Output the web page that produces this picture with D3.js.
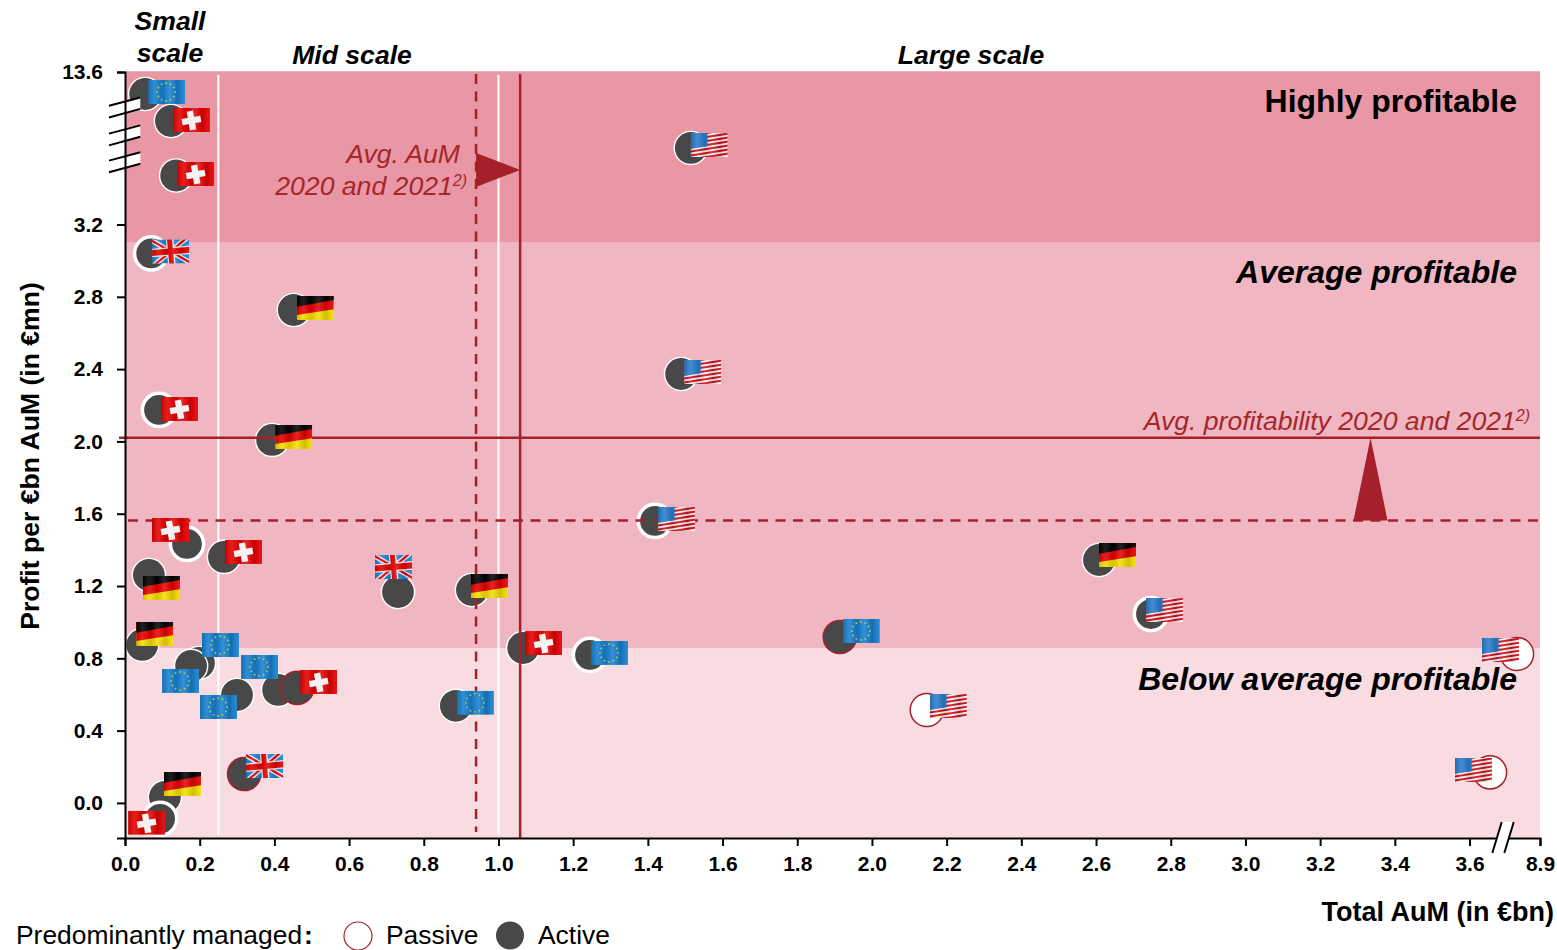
<!DOCTYPE html>
<html>
<head>
<meta charset="utf-8">
<script src="https://cdn.jsdelivr.net/npm/d3@7"></script>
<style>
  body { margin: 0; background: #fff; overflow: hidden; }
  svg { display: block; font-family: "Liberation Sans", Arial, sans-serif; }
  .tick text { font-size: 21px; font-weight: bold; fill: #000; }
  .scale-label { font-size: 26.6px; font-weight: bold; font-style: italic; text-anchor: middle; }
  .band-label { font-size: 32px; font-weight: bold; text-anchor: end; }
  .avg-label { font-size: 26.6px; font-style: italic; fill: #a5262b; text-anchor: end; }
  .avg-label .sup { font-size: 16px; }
</style>
</head>
<body>
<div id="plot-container"></div>
<script>
// ##################################
//  DATA
// ##################################
const fundAum = [
  0.054, 0.123, 0.137, 0.07, 0.452, 1.515, 1.489, 0.091, 0.394, 1.419, 0.166,
  0.265, 0.064, 0.731, 0.929, 0.046, 0.198, 0.177, 0.3, 0.41, 0.461, 0.886,
  0.319, 0.107, 0.094, 1.066, 1.245, 1.914, 2.608, 2.747, 2.147, 7.17, 5.14,
]
const fundProfit = [
  12.1, 10.26, 6.54, 3.04, 2.727, 8.42, 2.373, 2.174, 2.008, 1.56, 1.433,
  1.361, 1.261, 1.167, 1.178, 0.874, 0.774, 0.758, 0.597, 0.625, 0.636, 0.537,
  0.16, 0.033, -0.088, 0.857, 0.819, 0.918, 1.344, 1.045, 0.514, 0.824, 0.169,
]
const fundCountry = [
  "eu", "ch", "ch", "uk", "de", "us", "us", "ch", "de", "us", "ch",
  "ch", "de", "uk", "de", "de", "eu", "eu", "eu", "eu", "ch", "eu",
  "uk", "de", "ch", "ch", "eu", "eu", "de", "us", "us", "us", "us",
]
const fundManaged = [
  "active", "active", "active", "active", "active", "active", "active", "active", "active", "active", "active",
  "active", "active", "active", "active", "active", "active", "active", "active", "active", "active", "active",
  "active", "active", "active", "active", "active", "active", "active", "active", "passive", "passive", "passive",
]
const fundRing = [
  "thin", "thin", "thin", "thick", "thin", "thin", "thin", "thick", "thin", "thick", "thick",
  "thin", "thin", "thin", "thin", "thin", "thin", "thin", "thin", "thin", "red", "thin",
  "red", "thin", "thick", "thin", "thick", "red", "thin", "thick", "red", "red", "red",
]

const yTicks = [0, 0.4, 0.8, 1.2, 1.6, 2.0, 2.4, 2.8, 3.2, 13.6]
const xTicks = d3.range(0, 3.7, 0.2).concat([8.9])
const bandLimits = [-0.194, 0.857, 3.1, 13.65]

const smallScaleLimit = 0.25
const midScaleLimit = 1.0
const avgAum2020 = 0.94
const avgAum2021 = 1.058
const avgProfit2020 = 1.563
const avgProfit2021 = 2.02

// Where the axes are cut
const yBreaks = [11.2, 9.3, 7.46]
const xBreak = 6.12

// ##################################
//  LAYOUT
// ##################################
const width = 1557
const height = 950
const darkRed = "#a5202a"
const bandColors = ["#f8dce1", "#f0b7c2", "#e997a5"]
const flagW = 37
const flagH = 24

// Flag corner relative to the bubble centre, set by hand so flags don't collide
const flagDx = [3, 2, 1, 1, 3, 0, 3, 2, 3, 3, -35, 1, -6, -23, -1, -6, 3, -29, -37, -37, 3, 1, 2, -1, -32, 2, 1, 3, 0, -5, 3, -35, -35]
const flagDy = [-14, -13, -13.5, -14, -14, -15, -14, -13, -15, -14, -26, -17, 1, -37, -16, -23, -30, 3, 0, -35, -18, -15, -20, -25, -8, -17, -14, -18, -17, -16, -16, -16, -14.5]

const ringStyle = {
  thin: { stroke: "#fff", width: 1.4 },
  thick: { stroke: "#fff", width: 3.5 },
  red: { stroke: darkRed, width: 1.5 },
}

const x = d3.scaleLinear().domain([0, 3.6, 8.9]).range([125, 1469.5, 1540])
const y = d3.scaleLinear().domain([-0.194, 3.2, 13.6]).range([838, 224.5, 72])

const svg = d3
  .select("#plot-container")
  .append("svg")
  .attr("width", width)
  .attr("height", height)

// ##################################
//  FLAGS
// ##################################
const defs = svg.append("defs")

const waveStops = [
  [0, "#000", 0.16],
  [0.18, "#fff", 0.12],
  [0.38, "#000", 0.12],
  [0.58, "#fff", 0.14],
  [0.8, "#000", 0.14],
  [1, "#fff", 0.08],
]
const wave = defs.append("linearGradient").attr("id", "flag-wave")
wave
  .selectAll("stop")
  .data(waveStops)
  .join("stop")
  .attr("offset", (d) => d[0])
  .attr("stop-color", (d) => d[1])
  .attr("stop-opacity", (d) => d[2])

const flagSymbol = (id) =>
  defs
    .append("symbol")
    .attr("id", `flag-${id}`)
    .attr("viewBox", [0, 0, flagW, flagH])
    .attr("preserveAspectRatio", "none")

const addWave = (s) =>
  s
    .append("rect")
    .attr("width", flagW)
    .attr("height", flagH)
    .attr("fill", "url(#flag-wave)")

// Germany: stripes run uphill to the right
const de = flagSymbol("de")
de.append("rect").attr("width", flagW).attr("height", flagH).attr("fill", "#f4dc00")
de.append("polygon").attr("points", "0,0 37,0 37,13.3 0,19").attr("fill", "#e60000")
de.append("polygon").attr("points", "0,0 37,0 37,4 0,10.7").attr("fill", "#000")
addWave(de)

// Switzerland
const ch = flagSymbol("ch")
ch.append("rect").attr("width", flagW).attr("height", flagH).attr("fill", "#e60000")
addWave(ch)
const cross = ch.append("g").attr("transform", "translate(18.5 12.5) rotate(-10)").attr("fill", "#f2f2f2")
cross.append("rect").attr("x", -9.5).attr("y", -3.2).attr("width", 19).attr("height", 6.4)
cross.append("rect").attr("x", -3.2).attr("y", -9.5).attr("width", 6.4).attr("height", 19)

// EU: twelve stars in a ring
const eu = flagSymbol("eu")
eu.append("rect").attr("width", flagW).attr("height", flagH).attr("fill", "#1580d0")
addWave(eu)
eu
  .selectAll("circle")
  .data(d3.range(12))
  .join("circle")
  .attr("cx", (d) => 18 + 9 * Math.cos((d * Math.PI) / 6))
  .attr("cy", (d) => 12 + 9 * Math.sin((d * Math.PI) / 6))
  .attr("r", 0.9)
  .attr("fill", "#bcd04e")

// UK: slightly turned union jack
const uk = flagSymbol("uk")
uk.append("rect").attr("width", flagW).attr("height", flagH).attr("fill", "#1f84d8")
const jack = uk.append("g").attr("transform", "rotate(-5 18.5 12)")
const jackLine = (x1, y1, x2, y2, color, w) =>
  jack
    .append("line")
    .attr("x1", x1)
    .attr("y1", y1)
    .attr("x2", x2)
    .attr("y2", y2)
    .attr("stroke", color)
    .attr("stroke-width", w)
jackLine(-3, -3, 40, 27, "#f4f4f4", 5)
jackLine(-3, 27, 40, -3, "#f4f4f4", 5)
jackLine(-3, -3, 40, 27, "#e60000", 2.2)
jackLine(-3, 27, 40, -3, "#e60000", 2.2)
jackLine(18.5, -4, 18.5, 28, "#f4f4f4", 7.5)
jackLine(-4, 12, 41, 12, "#f4f4f4", 8.5)
jackLine(18.5, -4, 18.5, 28, "#e60000", 5)
jackLine(-4, 12, 41, 12, "#e60000", 6)
addWave(uk)

// USA: stripes and canton share the same slant
const us = flagSymbol("us")
us.append("rect").attr("width", flagW).attr("height", flagH).attr("fill", "#f8f4f4")
const stripes = us.append("g").attr("transform", "translate(0 2.9) skewY(-9)")
stripes
  .selectAll("rect")
  .data(d3.range(7))
  .join("rect")
  .attr("x", 0)
  .attr("y", (d) => -1.4 + d * 4)
  .attr("width", flagW)
  .attr("height", 2.1)
  .attr("fill", "#d00c18")
stripes
  .append("rect")
  .attr("x", 0)
  .attr("y", -6)
  .attr("width", 16.7)
  .attr("height", 19)
  .attr("fill", "#2a7ccc")
addWave(us)

// ##################################
//  BACKGROUND
// ##################################
svg
  .append("g")
  .selectAll("rect")
  .data(d3.pairs(bandLimits))
  .join("rect")
  .attr("x", x(0))
  .attr("width", x(8.9) - x(0))
  .attr("y", (d) => y(d[1]))
  .attr("height", (d) => y(d[0]) - y(d[1]))
  .attr("fill", (d, i) => bandColors[i])

svg
  .append("g")
  .selectAll("line")
  .data([smallScaleLimit, midScaleLimit])
  .join("line")
  .attr("x1", (d) => x(d))
  .attr("x2", (d) => x(d))
  .attr("y1", 75)
  .attr("y2", 835)
  .attr("stroke", "#fff")
  .attr("stroke-width", 2)

// ##################################
//  BUBBLES
// ##################################
const funds = fundAum.map((aum, i) => ({
  aum,
  profit: fundProfit[i],
  country: fundCountry[i],
  managed: fundManaged[i],
  ring: fundRing[i],
  dx: flagDx[i],
  dy: flagDy[i],
}))

svg
  .append("g")
  .selectAll("circle")
  .data(funds)
  .join("circle")
  .attr("cx", (d) => x(d.aum))
  .attr("cy", (d) => y(d.profit))
  .attr("r", 16.6)
  .attr("fill", (d) => (d.managed === "passive" ? "#fff" : "#484848"))
  .attr("stroke", (d) => ringStyle[d.ring].stroke)
  .attr("stroke-width", (d) => ringStyle[d.ring].width)

// ##################################
//  AVERAGES (dashed = 2020, solid = 2021)
// ##################################
const lines = svg.append("g").attr("stroke", darkRed).attr("fill", "none")

lines
  .append("line")
  .attr("x1", x(avgAum2020))
  .attr("x2", x(avgAum2020))
  .attr("y1", 74)
  .attr("y2", 832)
  .attr("stroke-width", 2.5)
  .attr("stroke-dasharray", "10 7.5")

lines
  .append("line")
  .attr("x1", 128)
  .attr("x2", 1540)
  .attr("y1", y(avgProfit2020))
  .attr("y2", y(avgProfit2020))
  .attr("stroke-width", 2.5)
  .attr("stroke-dasharray", "10 7.5")

// Axes cuts sit over the bubbles, flags stay on top of them
const breaks = svg.append("g")

breaks
  .selectAll("polygon.y-break")
  .data(yBreaks)
  .join("polygon")
  .attr("class", "y-break")
  .attr("points", (d) => {
    const c = y(d)
    return [
      [109, c - 1.4],
      [140.3, c - 9.7],
      [140.3, c + 1.7],
      [109, c + 10.3],
    ].join(" ")
  })
  .attr("fill", "#fff")

breaks
  .selectAll("path.y-break")
  .data(yBreaks)
  .join("path")
  .attr("class", "y-break")
  .attr("d", (d) => {
    const c = y(d)
    return `M109,${c - 1.4}L140.3,${c - 9.7}M109,${c + 10.3}L140.3,${c + 1.7}`
  })
  .attr("stroke", "#000")
  .attr("stroke-width", 2)
  .attr("fill", "none")

svg
  .append("g")
  .selectAll("use")
  .data(funds)
  .join("use")
  .attr("href", (d) => `#flag-${d.country}`)
  .attr("x", (d) => x(d.aum) + d.dx)
  .attr("y", (d) => y(d.profit) + d.dy)
  .attr("width", flagW)
  .attr("height", flagH)

lines
  .append("line")
  .attr("x1", x(avgAum2021))
  .attr("x2", x(avgAum2021))
  .attr("y1", 74)
  .attr("y2", 838)
  .attr("stroke-width", 2.5)

lines
  .append("line")
  .attr("x1", 119)
  .attr("x2", 1540)
  .attr("y1", y(avgProfit2021))
  .attr("y2", y(avgProfit2021))
  .attr("stroke-width", 2.5)

// Arrows run from the 2020 average to the 2021 average
const arrowLine = d3.line()
const arrowY = y(6.92)
svg
  .append("path")
  .attr(
    "d",
    arrowLine([
      [x(avgAum2020), arrowY - 17],
      [x(avgAum2021), arrowY],
      [x(avgAum2020), arrowY + 17],
    ]) + "Z"
  )
  .attr("fill", darkRed)

const arrowX = x(3.335)
svg
  .append("path")
  .attr(
    "d",
    arrowLine([
      [arrowX - 17, y(avgProfit2020)],
      [arrowX, y(avgProfit2021)],
      [arrowX + 17, y(avgProfit2020)],
    ]) + "Z"
  )
  .attr("fill", darkRed)

// ##################################
//  AXES
// ##################################
const yAxis = (g) =>
  g
    .attr("transform", `translate(${x(0)}, 0)`)
    .call(
      d3
        .axisLeft(y)
        .tickValues(yTicks)
        .tickFormat(d3.format(".1f"))
        .tickSize(8)
        .tickPadding(14)
    )
    .call((g) => g.select(".domain").attr("stroke-width", 2))
    .call((g) => g.selectAll(".tick line").attr("stroke-width", 2))

const xAxis = (g) =>
  g
    .attr("transform", `translate(0, 838)`)
    .call(
      d3
        .axisBottom(x)
        .tickValues(xTicks)
        .tickFormat(d3.format(".1f"))
        .tickSize(8)
        .tickPadding(10)
    )
    .call((g) => g.select(".domain").attr("stroke-width", 2))
    .call((g) => g.selectAll(".tick line").attr("stroke-width", 2))

svg.append("g").call(yAxis)
svg.append("g").call(xAxis)

// Break mark on the x axis
const bx = x(xBreak)
svg
  .append("polygon")
  .attr("points", [
    [bx - 10.7, 853],
    [bx - 1.3, 822],
    [bx + 10.7, 822],
    [bx + 1.3, 853],
  ].join(" "))
  .attr("fill", "#fff")
svg
  .append("path")
  .attr("d", `M${bx - 10.7},853L${bx - 1.3},822M${bx + 1.3},853L${bx + 10.7},822`)
  .attr("stroke", "#000")
  .attr("stroke-width", 2)
  .attr("fill", "none")

// ##################################
//  TEXT
// ##################################
const scaleLabels = [
  { lines: ["Small", "scale"], at: 170, top: 30 },
  { lines: ["Mid scale"], at: 352, top: 64 },
  { lines: ["Large scale"], at: 971, top: 64 },
]
scaleLabels.forEach((l) =>
  l.lines.forEach((t, i) =>
    svg
      .append("text")
      .attr("class", "scale-label")
      .attr("x", l.at)
      .attr("y", l.top + i * 32)
      .text(t)
  )
)

const bandLabels = [
  { text: "Highly profitable", y: 112, italic: false },
  { text: "Average profitable", y: 283, italic: true },
  { text: "Below average profitable", y: 690, italic: true },
]
svg
  .append("g")
  .selectAll("text")
  .data(bandLabels)
  .join("text")
  .attr("class", "band-label")
  .attr("x", 1517)
  .attr("y", (d) => d.y)
  .attr("font-style", (d) => (d.italic ? "italic" : "normal"))
  .text((d) => d.text)

const avgText = (px, py, main) => {
  const t = svg.append("text").attr("class", "avg-label").attr("x", px).attr("y", py)
  t.append("tspan").text(main)
  t.append("tspan").attr("class", "sup").attr("dy", -9).text("2)")
}

svg
  .append("text")
  .attr("class", "avg-label")
  .attr("x", 460)
  .attr("y", 163)
  .text("Avg. AuM")
avgText(467, 195, "2020 and 2021")
avgText(1530, 430, "Avg. profitability 2020 and 2021")

svg
  .append("text")
  .attr("transform", "translate(39, 456) rotate(-90)")
  .attr("text-anchor", "middle")
  .attr("font-size", 26.6)
  .attr("font-weight", "bold")
  .text("Profit per €bn AuM (in €mn)")

svg
  .append("text")
  .attr("x", 1554)
  .attr("y", 921)
  .attr("text-anchor", "end")
  .attr("font-size", 27)
  .attr("font-weight", "bold")
  .text("Total AuM (in €bn)")

// Legend
const legend = svg.append("g").attr("font-size", 26.4)
const legendTitle = legend.append("text").attr("x", 16).attr("y", 944.3)
legendTitle.append("tspan").text("Predominantly managed")
legendTitle.append("tspan").attr("font-weight", "bold").attr("dx", 2).text(":")
legend
  .append("circle")
  .attr("cx", 358)
  .attr("cy", 936)
  .attr("r", 14)
  .attr("fill", "#fff")
  .attr("stroke", darkRed)
  .attr("stroke-width", 1.2)
legend.append("text").attr("x", 386).attr("y", 944.3).text("Passive")
legend.append("circle").attr("cx", 510).attr("cy", 935.5).attr("r", 14).attr("fill", "#484848")
legend.append("text").attr("x", 538).attr("y", 944.3).text("Active")
</script>
</body>
</html>
